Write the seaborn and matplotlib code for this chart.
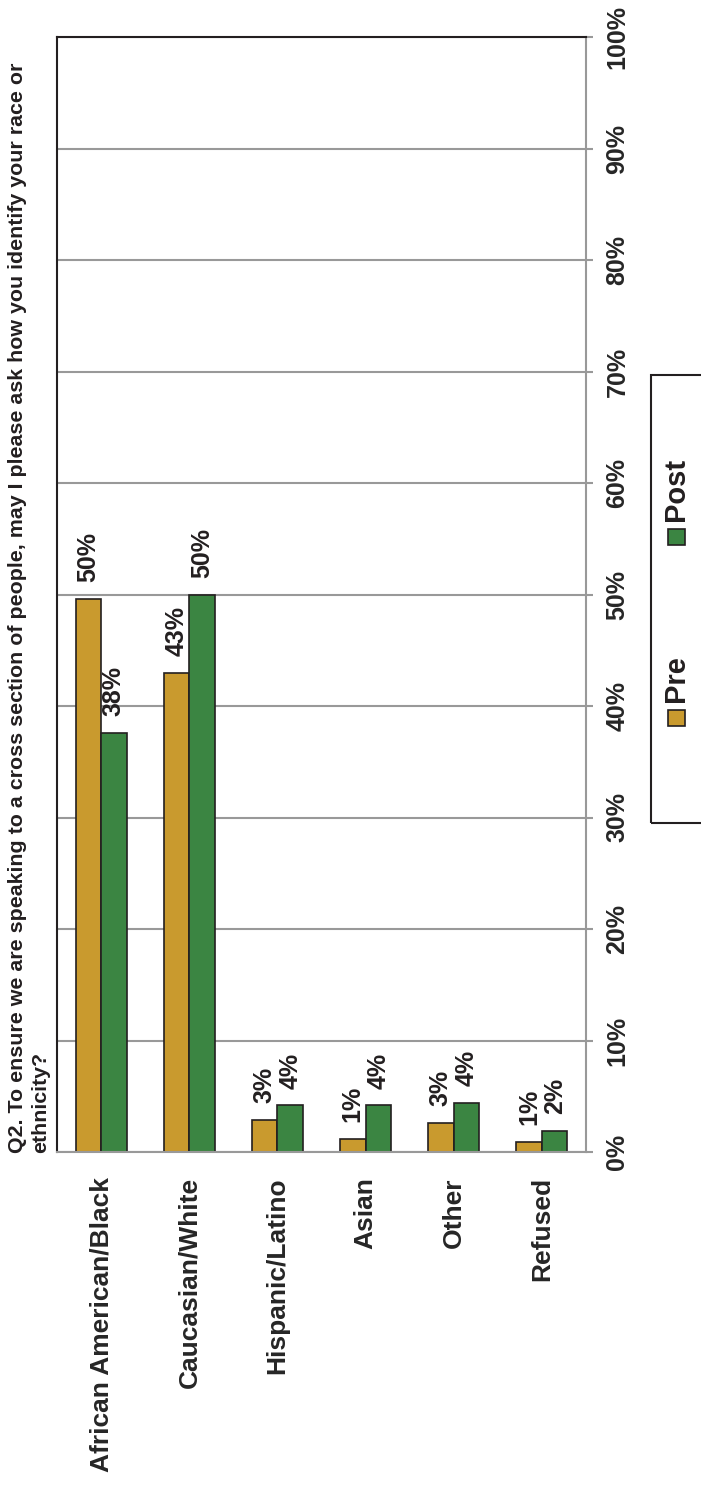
import pandas as pd
import numpy as np
import seaborn as sns
import matplotlib.pyplot as plt
from matplotlib.patches import Rectangle

categories = ["African American/Black", "Caucasian/White", "Hispanic/Latino",
              "Asian", "Other", "Refused"]
pre = [49.6, 43.0, 2.9, 1.2, 2.6, 0.9]
post = [37.6, 50.0, 4.2, 4.2, 4.4, 1.9]
periods = ["Pre", "Post"]
colors = ["#C99A2E", "#3B8542"]
yticks = list(range(0, 101, 10))
title = ("Q2. To ensure we are speaking to a cross section of people, may I please ask how you identify your race or\n"
         "ethnicity?")

df = pd.DataFrame({
    "category": categories * 2,
    "period": ["Pre"] * len(categories) + ["Post"] * len(categories),
    "value": pre + post,
})

sns.set_style("white")
plt.rcParams["font.family"] = ["Liberation Sans", "DejaVu Sans"]
plt.rcParams["font.weight"] = "bold"

W, H = 701, 1486
fig = plt.figure(figsize=(W / 100, H / 100), dpi=100)
ax = fig.add_axes([57 / W, 1 - 1152 / H, (586 - 57) / W, (1152 - 37) / H])

sns.barplot(data=df, x="category", y="value", hue="period", hue_order=periods,
            palette=colors, saturation=1, width=0.58, edgecolor="#231F20",
            linewidth=1.2, ax=ax, legend=False)

# value labels above bars
for cont, vals in zip(ax.containers, [pre, post]):
    ax.bar_label(cont, labels=[f"{v:.0f}%" for v in vals], rotation=90,
                 padding=12, fontsize=18, fontweight="bold", color="#231F20")

ax.set_ylim(0, 100)
ax.set_xlim(-0.5, len(categories) - 0.5)
ax.set_yticks(yticks)
ax.set_yticklabels([f"{t}%" for t in yticks])
ax.yaxis.tick_right()
ax.tick_params(axis="y", direction="out", length=5, width=1.5, color="#999999",
               pad=9, labelsize=18, labelrotation=90)
for lab in ax.get_yticklabels():
    lab.set_va("center")
    lab.set_fontweight("bold")

ax.set_xticks(range(len(categories)))
ax.set_xticklabels(categories, rotation=90, fontsize=19, fontweight="bold")
ax.tick_params(axis="x", which="major", length=0, pad=18)
ax.set_xticks(np.arange(-0.5, len(categories), 1), minor=True)
ax.tick_params(axis="x", which="minor", direction="out", length=7, width=1.5,
               color="#999999")

ax.set_xlabel("")
ax.set_ylabel("")
ax.yaxis.grid(True, color="#999999", linewidth=1.5)
ax.set_axisbelow(True)

ax.spines["left"].set_color("#231F20")
ax.spines["top"].set_color("#231F20")
ax.spines["right"].set_color("#999999")
ax.spines["bottom"].set_color("#999999")
for s in ax.spines.values():
    s.set_linewidth(1.5)

# title, rotated like the chart
fig.text(8 / W, 1 - 1153 / H, title, rotation=90, ha="left", va="bottom",
         multialignment="left", fontsize=15.4, fontweight="bold",
         linespacing=1.3, color="#231F20")

# legend, drawn rotated
fig.add_artist(Rectangle((651 / W, 1 - 823 / H), 80 / W, (823 - 375) / H,
                         transform=fig.transFigure, fill=False,
                         edgecolor="#231F20", linewidth=1.5, clip_on=False))
leg_y = [718, 537]
for name, col, yc in zip(periods, colors, leg_y):
    fig.add_artist(Rectangle((668 / W, 1 - (yc + 8) / H), 17 / W, 16 / H,
                             transform=fig.transFigure, facecolor=col,
                             edgecolor="#231F20", linewidth=1.2))
    fig.text(676 / W, 1 - (yc - 16) / H, name, rotation=90, ha="center",
             va="bottom", fontsize=21, fontweight="bold", color="#231F20")

fig.savefig("out.png", dpi=100)
